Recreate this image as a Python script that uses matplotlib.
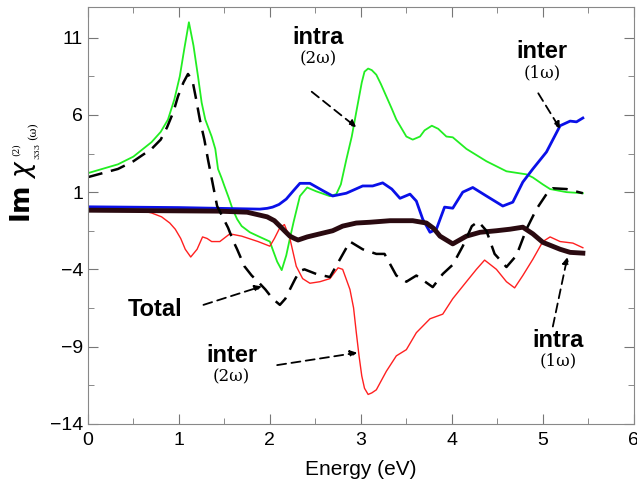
import matplotlib
matplotlib.use('Agg')
import matplotlib.pyplot as plt
from matplotlib.ticker import FixedLocator

# values (energy in eV)
green_x = [0.0, 0.33, 0.50, 0.70, 0.80, 0.88, 0.95, 1.01, 1.06, 1.11, 1.16, 1.21, 1.25, 1.29, 1.36, 1.40,
           1.43, 1.47, 1.50, 1.55, 1.59, 1.64, 1.69, 1.78, 1.87, 2.00, 2.03, 2.08, 2.13, 2.18, 2.22,
           2.26, 2.33, 2.41, 2.51, 2.66, 2.73, 2.78, 2.84, 2.90, 2.95, 3.01, 3.04, 3.08, 3.12, 3.17,
           3.22, 3.28, 3.34, 3.39, 3.45, 3.50, 3.57, 3.65, 3.70, 3.78, 3.85, 3.94, 4.01, 4.16, 4.38,
           4.60, 4.82, 4.89, 5.00, 5.08, 5.26, 5.44]
green_y = [2.23, 2.8, 3.3, 4.24, 4.9, 5.7, 7.0, 8.5, 10.3, 12.0, 10.5, 8.5, 6.8, 5.7, 4.6, 3.8,
           2.5, 1.9, 1.4, 0.6, -0.1, -0.75, -1.2, -1.6, -1.85, -2.2, -2.7, -3.5, -4.05, -3.1, -2.0,
           -0.95, 0.74, 1.3, 1.05, 0.74, 0.87, 1.5, 3.1, 4.6, 6.2, 8.1, 8.8, 9.0, 8.9, 8.6,
           8.0, 7.2, 6.4, 5.7, 5.1, 4.6, 4.4, 4.6, 5.0, 5.3, 5.1, 4.6, 4.55, 3.8, 3.0,
           2.35, 2.15, 1.95, 1.5, 1.2, 1.0, 0.93]

total_x = [0.0, 0.33, 0.50, 0.70, 0.80, 0.87, 0.94, 0.99, 1.05, 1.10, 1.15, 1.19, 1.23, 1.28, 1.32,
           1.37, 1.42, 1.48, 1.54, 1.60, 1.64, 1.72, 1.80, 1.87, 1.95, 2.03, 2.11, 2.17, 2.22, 2.28,
           2.33, 2.38, 2.51, 2.66, 2.77, 2.88, 3.02, 3.17, 3.26, 3.39, 3.50, 3.61, 3.79, 3.90, 4.01,
           4.12, 4.22, 4.29, 4.38, 4.47, 4.60, 4.71, 4.82, 4.93, 5.04, 5.11, 5.26, 5.44]
total_y = [1.97, 2.5, 3.0, 3.8, 4.4, 5.2, 6.2, 7.2, 8.1, 8.65, 8.2, 7.0, 5.7, 4.4, 3.1,
           1.6, 0.1, -0.6, -1.3, -2.2, -2.7, -3.8, -4.4, -4.8, -5.3, -5.9, -6.3, -5.9, -5.3, -4.6,
           -4.1, -4.0, -4.3, -4.5, -3.35, -2.2, -2.7, -3.0, -3.0, -4.4, -4.8, -4.4, -5.15, -4.3, -3.7,
           -2.5, -1.2, -0.9, -1.5, -3.0, -3.85, -3.1, -1.4, -0.1, 0.87, 1.25, 1.2, 0.93]

blue_x = [0.0, 1.0, 1.89, 1.97, 2.03, 2.10, 2.18, 2.26, 2.33, 2.44, 2.59, 2.69, 2.84, 3.02, 3.13, 3.24,
          3.34, 3.43, 3.54, 3.61, 3.68, 3.76, 3.83, 3.92, 4.01, 4.12, 4.23, 4.38, 4.56, 4.67, 4.78,
          4.89, 5.04, 5.19, 5.30, 5.37, 5.44]
blue_y = [0.05, 0.0, -0.1, -0.05, 0.03, 0.2, 0.55, 1.1, 1.57, 1.57, 1.07, 0.75, 0.93, 1.4, 1.4, 1.6,
          1.2, 0.6, 0.87, 0.42, -0.75, -1.6, -1.4, 0.03, -0.04, 1.0, 1.3, 0.75, 0.1, 0.35, 1.65,
          2.5, 3.6, 5.3, 5.6, 5.55, 5.8]

red_x = [0.0, 0.59, 0.70, 0.81, 0.90, 0.96, 1.02, 1.07, 1.13, 1.20, 1.26, 1.31, 1.36, 1.45, 1.56,
         1.69, 1.87, 2.00, 2.05, 2.11, 2.16, 2.22, 2.29, 2.36, 2.44, 2.55, 2.66, 2.75, 2.80, 2.88,
         2.92, 2.95, 2.98, 3.01, 3.04, 3.08, 3.12, 3.17, 3.28, 3.39, 3.50, 3.61, 3.76, 3.90, 4.01,
         4.16, 4.27, 4.36, 4.49, 4.60, 4.69, 4.78, 4.89, 5.00, 5.08, 5.19, 5.33, 5.44]
red_y = [-0.15, -0.2, -0.35, -0.6, -1.0, -1.4, -2.0, -2.7, -3.2, -2.7, -1.9, -2.0, -2.2, -2.2, -1.7,
         -1.85, -2.2, -2.5, -2.0, -1.3, -1.1, -2.0, -3.8, -4.6, -4.9, -4.8, -4.6, -3.9, -4.0, -5.3,
         -6.5, -8.1, -9.6, -10.9, -11.7, -12.1, -12.0, -11.8, -10.6, -9.6, -9.2, -8.1, -7.2, -6.9, -5.9,
         -4.8, -4.0, -3.4, -4.0, -4.8, -5.2, -4.4, -3.35, -2.2, -1.9, -2.2, -2.3, -2.6]

intra1_x = [0.0, 1.43, 1.75, 1.97, 2.05, 2.11, 2.16, 2.22, 2.27, 2.31, 2.41, 2.55, 2.69, 2.80, 2.95,
            3.10, 3.32, 3.57, 3.72, 3.80, 3.87, 4.01, 4.16, 4.31, 4.49, 4.64, 4.78, 4.89, 5.00,
            5.19, 5.30, 5.44]
intra1_y = [-0.17, -0.23, -0.3, -0.6, -0.85, -1.2, -1.5, -1.85, -2.0, -2.1, -1.9, -1.7, -1.5, -1.2, -1.0,
            -0.95, -0.85, -0.85, -1.0, -1.35, -1.85, -2.35, -1.85, -1.6, -1.5, -1.4, -1.27, -1.7, -2.25,
            -2.7, -2.9, -2.95]

x_ticks = [0, 1, 2, 3, 4, 5, 6]
y_ticks = [-14, -9, -4, 1, 6, 11]

font = 'Liberation Sans'

fig = plt.figure(figsize=(6.37, 4.86), dpi=100)
ax = fig.add_axes([0.138, 0.128, 0.857, 0.858])

ax.plot(green_x, green_y, color='#22ee22', lw=1.3)
ax.plot(red_x, red_y, color='#ff2020', lw=1.0)
ax.plot(blue_x, blue_y, color='#0a10e8', lw=2.0)
ax.plot(intra1_x, intra1_y, color='#2a0a10', lw=3.5)
ax.plot(total_x, total_y, color='black', lw=1.8, dashes=(6, 3.5))

ax.set_xlim(0, 6)
ax.set_ylim(-14, 13)
ax.set_xticks(x_ticks)
ax.set_yticks(y_ticks)
ax.set_yticklabels(['\u2212' + str(-v) if v < 0 else str(v) for v in y_ticks])
ax.xaxis.set_minor_locator(FixedLocator([0.5, 1.5, 2.5, 3.5, 4.5, 5.5]))
ax.yaxis.set_minor_locator(FixedLocator([-11.5, -6.5, -1.5, 3.5, 8.5]))
ax.tick_params(which='both', direction='in', top=True, right=True, color='#777777', labelsize=14)
ax.tick_params(which='major', length=7)
ax.tick_params(which='minor', length=4)
ax.tick_params(axis='x', pad=6)
for lab in ax.get_xticklabels() + ax.get_yticklabels():
    lab.set_family(font)
for s in ax.spines.values():
    s.set_color('#888888')

ax.set_xlabel('Energy (eV)', fontsize=15, family=font, labelpad=8)

# y label built from pieces so the indices stay small, as in the reference
W, H = 637.0, 486.0
fig.text(23 / W, 1 - 191 / H, r'$\mathbf{Im}\ \chi$', rotation=90, fontsize=19, ha='center', va='center')
fig.text(16 / W, 1 - 150 / H, '(2)', rotation=90, fontsize=6.5, family='DejaVu Serif', ha='center', va='center')
fig.text(37 / W, 1 - 151 / H, '333', rotation=90, fontsize=6, family='DejaVu Serif', ha='center', va='center')
fig.text(33 / W, 1 - 131 / H, '(\u03c9)', rotation=90, fontsize=8, family='DejaVu Serif', ha='center', va='center')

dash_arrow = dict(arrowstyle='-|>', color='black', lw=1.3, linestyle=(0, (5, 3)),
                  mutation_scale=10, shrinkA=0, shrinkB=0)

def label(x, y, name, sub, dy=-1.35):
    ax.text(x, y, name, fontsize=17, fontweight='bold', family=font, ha='center', va='center')
    ax.text(x, y + dy, sub, fontsize=12, family='DejaVu Serif', ha='center', va='center')

label(2.53, 11.0, 'intra', '(2\u03c9)')
ax.annotate('', xy=(2.95, 5.2), xytext=(2.46, 7.5), arrowprops=dash_arrow)

label(4.99, 10.1, 'inter', '(1\u03c9)')
ax.annotate('', xy=(5.19, 5.1), xytext=(4.95, 7.4), arrowprops=dash_arrow)

ax.text(0.74, -6.6, 'Total', fontsize=17, fontweight='bold', family=font, ha='center', va='center')
ax.annotate('', xy=(1.91, -5.1), xytext=(1.27, -6.3), arrowprops=dash_arrow)

label(1.58, -9.6, 'inter', '(2\u03c9)')
ax.annotate('', xy=(2.96, -9.4), xytext=(2.08, -10.2), arrowprops=dash_arrow)

label(5.17, -8.6, 'intra', '(1\u03c9)')
ax.annotate('', xy=(5.27, -3.2), xytext=(5.11, -7.7), arrowprops=dash_arrow)

fig.savefig('out.png', dpi=100)
